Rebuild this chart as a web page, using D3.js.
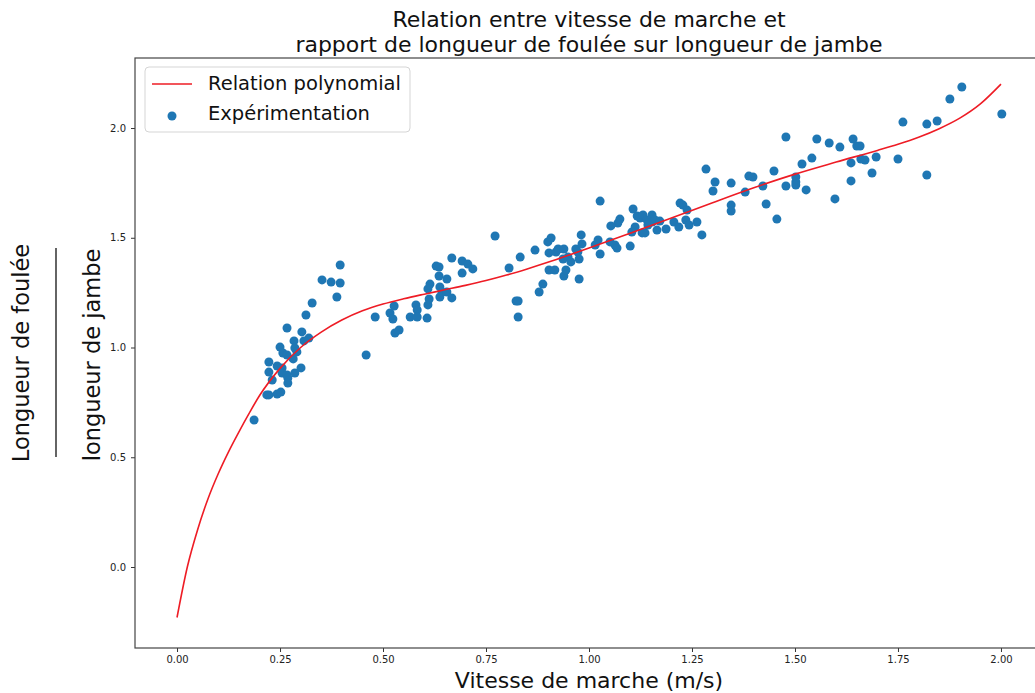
<!DOCTYPE html>
<html>
<head>
<meta charset="utf-8">
<script src="https://cdn.jsdelivr.net/npm/d3@7"></script>
<style>
  body { margin: 0; background: #fff; }
  svg { display: block; font-family: "DejaVu Sans", sans-serif; }
</style>
</head>
<body>
<svg id="chart" width="1035" height="693"></svg>
<script>
// Title / labels
const titleLines = ["Relation entre vitesse de marche et", "rapport de longueur de foulée sur longueur de jambe"];
const xLabel = "Vitesse de marche (m/s)";
const yLabelTop = "Longueur de foulée";
const yLabelBottom = "longueur de jambe";
const legendLabels = ["Relation polynomial", "Expérimentation"];

// Tick values
const xTicks = [0, 0.25, 0.5, 0.75, 1.0, 1.25, 1.5, 1.75, 2.0];
const yTicks = [0, 0.5, 1.0, 1.5, 2.0];

// Polynomial relation
const curveX = [0, 0.025, 0.05, 0.075, 0.1, 0.125, 0.15, 0.175, 0.2, 0.25, 0.3, 0.35, 0.4, 0.45, 0.5, 0.55, 0.6, 0.65, 0.7, 0.75, 0.8, 0.85, 0.9, 0.95, 1.0, 1.1, 1.2, 1.3, 1.4, 1.5, 1.6, 1.7, 1.75, 1.8, 1.85, 1.9, 1.95, 2.0];
const curveY = [-0.23, 0.0, 0.17, 0.31, 0.425, 0.525, 0.615, 0.70, 0.78, 0.905, 1.0, 1.07, 1.125, 1.167, 1.198, 1.222, 1.243, 1.263, 1.283, 1.305, 1.33, 1.358, 1.388, 1.42, 1.453, 1.521, 1.59, 1.66, 1.728, 1.79, 1.845, 1.898, 1.926, 1.958, 1.997, 2.045, 2.11, 2.20];

const expX = [
  0.396, 0.352, 0.374, 0.396, 0.388, 0.328, 0.313, 0.267, 0.303, 0.320, 0.284, 0.308, 0.250, 0.286, 0.291, 0.257, 0.267, 0.282, 0.223, 0.243, 0.255, 0.301, 0.223, 0.255, 0.267, 0.286, 0.269, 0.231, 0.269, 0.218, 0.223, 0.243, 0.252, 0.187, 0.481, 0.459, 0.517, 0.527, 0.524, 0.529, 0.539, 0.566,
  0.580, 0.583, 0.583, 0.607, 0.609, 0.612, 0.614, 0.609, 0.629, 0.636, 0.636, 0.655, 0.638, 0.643, 0.638, 0.655, 0.667, 0.667, 0.692, 0.692, 0.706, 0.718, 0.806, 0.833, 0.823, 0.828, 0.828, 0.869, 0.888, 0.879, 0.900, 0.908, 0.903, 0.903, 0.917, 0.920, 0.925, 0.939, 0.937, 0.939, 0.944, 0.949, 0.956, 0.968, 0.973, 0.976, 0.976, 0.981, 0.983, 1.022, 1.015, 0.772,
  1.027, 1.027, 1.051, 1.063, 1.068, 1.100, 1.107, 1.117, 1.124, 1.131, 1.153, 1.141, 1.153, 1.160, 1.172, 1.143, 1.112, 1.104, 1.129, 1.136, 1.165, 1.187, 1.221, 1.228, 1.238, 1.206, 1.218, 1.235, 1.243, 1.262, 1.274, 1.075, 1.070, 1.053, 1.284, 1.306, 1.301, 1.345, 1.345, 1.345, 1.379, 1.388, 1.398, 1.422, 1.430, 1.449, 1.456, 1.478, 1.478,
  1.502, 1.502, 1.502, 1.517, 1.527, 1.541, 1.553, 1.583, 1.609, 1.641, 1.650, 1.658, 1.597, 1.636, 1.660, 1.670, 1.697, 1.636, 1.687, 1.750, 1.762, 1.820, 1.845, 1.820, 1.876, 1.905, 2.002
];
const expY = [
  1.376, 1.308, 1.298, 1.294, 1.230, 1.203, 1.148, 1.089, 1.071, 1.043, 1.030, 1.030, 1.002, 0.998, 0.980, 0.975, 0.966, 0.948, 0.934, 0.916, 0.907, 0.907, 0.888, 0.884, 0.875, 0.884, 0.861, 0.852, 0.838, 0.784, 0.784, 0.788, 0.797, 0.670, 1.139, 0.966, 1.157, 1.189, 1.130, 1.066, 1.080, 1.139,
  1.194, 1.171, 1.139, 1.134, 1.194, 1.221, 1.289, 1.267, 1.371, 1.367, 1.326, 1.312, 1.276, 1.253, 1.230, 1.253, 1.226, 1.408, 1.394, 1.339, 1.380, 1.358, 1.362, 1.412, 1.212, 1.212, 1.139, 1.444, 1.289, 1.253, 1.481, 1.499, 1.431, 1.353, 1.353, 1.435, 1.449, 1.449, 1.403, 1.326, 1.353, 1.412, 1.390, 1.449, 1.435, 1.403, 1.312, 1.513, 1.472, 1.490, 1.467, 1.508,
  1.667, 1.426, 1.481, 1.467, 1.453, 1.462, 1.631, 1.599, 1.590, 1.604, 1.604, 1.581, 1.572, 1.581, 1.576, 1.558, 1.549, 1.526, 1.522, 1.522, 1.535, 1.540, 1.658, 1.649, 1.626, 1.572, 1.549, 1.581, 1.558, 1.572, 1.513, 1.585, 1.567, 1.554, 1.813, 1.754, 1.713, 1.749, 1.649, 1.622, 1.708, 1.781, 1.777, 1.736, 1.654, 1.804, 1.585, 1.736, 1.959,
  1.777, 1.754, 1.740, 1.836, 1.718, 1.863, 1.950, 1.932, 1.913, 1.950, 1.918, 1.918, 1.677, 1.841, 1.859, 1.854, 1.868, 1.759, 1.795, 1.859, 2.027, 2.018, 2.032, 1.786, 2.132, 2.187, 2.064
];

const svg = d3.select("#chart");
const plot = { left: 135, right: 1043, top: 58, bottom: 648 };

const x = d3.scaleLinear().domain([-0.102, 2.102]).range([plot.left, plot.right]);
const y = d3.scaleLinear().domain([-0.369, 2.319]).range([plot.bottom, plot.top]);

// Points
const pts = expX.map((v, i) => ({ x: v, y: expY[i] }));
svg.append("g")
  .selectAll("circle")
  .data(pts)
  .join("circle")
  .attr("cx", d => x(d.x))
  .attr("cy", d => y(d.y))
  .attr("r", 4.5)
  .attr("fill", "#1f77b4");

// Curve
const curvePts = curveX.map((v, i) => [v, curveY[i]]);
svg.append("path")
  .datum(curvePts)
  .attr("fill", "none")
  .attr("stroke", "#ee1c25")
  .attr("stroke-width", 1.6)
  .attr("d", d3.line().x(d => x(d[0])).y(d => y(d[1])).curve(d3.curveMonotoneX));

// Axes
const xAxis = svg.append("g")
  .attr("transform", `translate(0,${plot.bottom})`)
  .call(d3.axisBottom(x).tickValues(xTicks).tickFormat(d3.format(".2f")).tickSize(4).tickPadding(4));
const yAxis = svg.append("g")
  .attr("transform", `translate(${plot.left},0)`)
  .call(d3.axisLeft(y).tickValues(yTicks).tickFormat(d3.format(".1f")).tickSize(4).tickPadding(5));
[xAxis, yAxis].forEach(a => {
  a.select(".domain").remove();
  a.selectAll("text").attr("font-size", 10).attr("font-family", "DejaVu Sans").attr("fill", "#222");
  a.selectAll("line").attr("stroke", "#333");
});

// Spines
svg.append("rect")
  .attr("x", plot.left).attr("y", plot.top)
  .attr("width", plot.right - plot.left).attr("height", plot.bottom - plot.top)
  .attr("fill", "none").attr("stroke", "#444").attr("stroke-width", 1.2);

// Title
const cx = (plot.left + plot.right) / 2;
svg.append("text").attr("x", cx).attr("y", 27).attr("text-anchor", "middle")
  .attr("font-size", 22).attr("fill", "#111").text(titleLines[0]);
svg.append("text").attr("x", cx).attr("y", 52).attr("text-anchor", "middle")
  .attr("font-size", 22).attr("fill", "#111").text(titleLines[1]);

// X label
svg.append("text").attr("x", cx).attr("y", 688).attr("text-anchor", "middle")
  .attr("font-size", 22).attr("fill", "#111").text(xLabel);

// Y label (fraction)
svg.append("text").attr("transform", "translate(29,353) rotate(-90)").attr("text-anchor", "middle")
  .attr("font-size", 22.5).attr("fill", "#111").text(yLabelTop);
svg.append("line").attr("x1", 56).attr("x2", 56).attr("y1", 248).attr("y2", 457)
  .attr("stroke", "#111").attr("stroke-width", 1.3);
svg.append("text").attr("transform", "translate(100,355) rotate(-90)").attr("text-anchor", "middle")
  .attr("font-size", 22.5).attr("fill", "#111").text(yLabelBottom);

// Legend
const lg = svg.append("g");
lg.append("rect").attr("x", 145).attr("y", 67).attr("width", 265).attr("height", 65)
  .attr("rx", 4).attr("fill", "#fff").attr("fill-opacity", 0.8).attr("stroke", "#d5d5d5");
lg.append("line").attr("x1", 152).attr("x2", 192).attr("y1", 84).attr("y2", 84)
  .attr("stroke", "#ee1c25").attr("stroke-width", 1.6);
lg.append("text").attr("x", 208).attr("y", 90).attr("font-size", 19.5).attr("fill", "#111").text(legendLabels[0]);
lg.append("circle").attr("cx", 172).attr("cy", 116).attr("r", 4.5).attr("fill", "#1f77b4");
lg.append("text").attr("x", 208).attr("y", 120).attr("font-size", 19.5).attr("fill", "#111").text(legendLabels[1]);
</script>
</body>
</html>
